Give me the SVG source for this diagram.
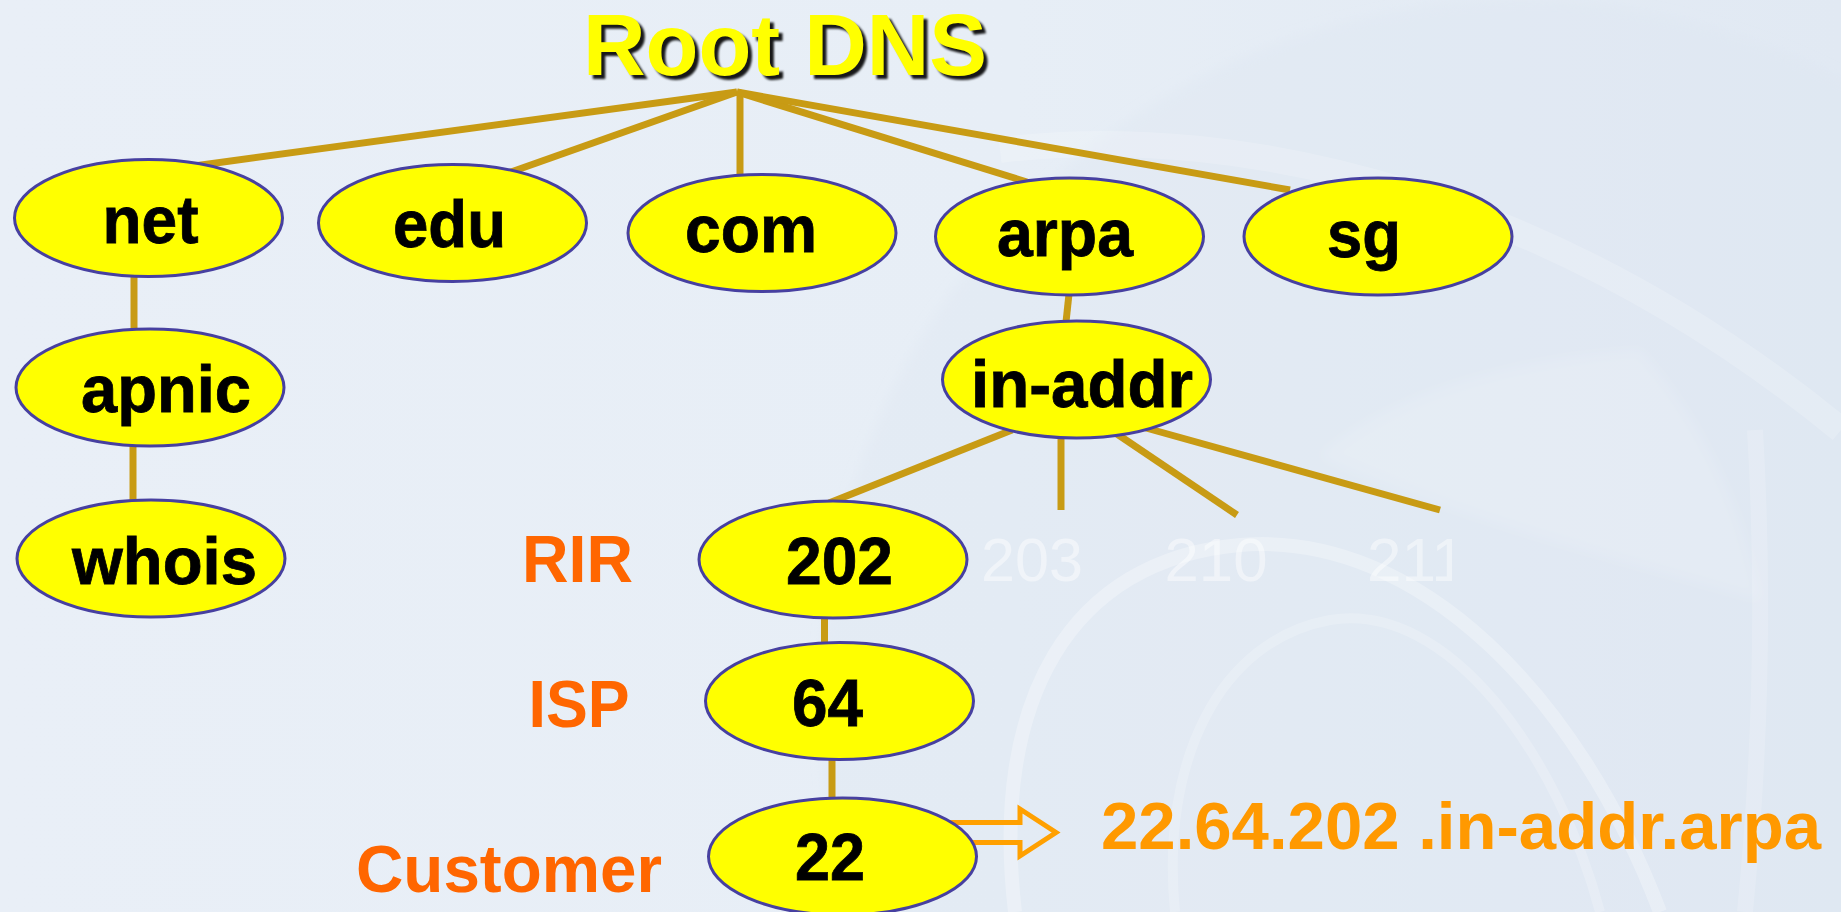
<svg xmlns="http://www.w3.org/2000/svg" width="1841" height="912" viewBox="0 0 1841 912">
  <style>
    .node ellipse { fill: #FFFF00; stroke: #4740A0; stroke-width: 3; }
    .node text { font-family: "Liberation Sans", Arial, sans-serif; font-weight: bold; font-size: 67px; fill: #000; stroke: #000; stroke-width: 0.8; text-anchor: middle; }
    .edge { stroke: #C89B14; stroke-width: 7; fill: none; stroke-linecap: butt; }
    .lvl { font-family: "Liberation Sans", Arial, sans-serif; font-weight: bold; font-size: 67px; fill: #FF6600; }
    .ghost { font-family: "Liberation Sans", Arial, sans-serif; font-size: 62px; fill: #FFFFFF; fill-opacity: 0.45; }
    .title { font-family: "Liberation Sans", Arial, sans-serif; font-weight: bold; font-size: 88px; text-anchor: middle; }
    .swoosh { fill: none; stroke: #FFFFFF; }
  </style>
  <defs>
    <filter id="soft" x="-5%" y="-20%" width="110%" height="140%">
      <feGaussianBlur stdDeviation="0.9"/>
    </filter>
    <filter id="haze" x="-20%" y="-20%" width="140%" height="140%">
      <feGaussianBlur stdDeviation="6"/>
    </filter>
    <linearGradient id="bgShade" x1="0" y1="0" x2="1" y2="0">
      <stop offset="0" stop-color="#E9EFF7"/>
      <stop offset="0.55" stop-color="#E7EEF6"/>
      <stop offset="1" stop-color="#E1E9F3"/>
    </linearGradient>
    <linearGradient id="fadeA" gradientUnits="userSpaceOnUse" x1="1010" y1="431" x2="960" y2="451">
      <stop offset="0" stop-color="#E6D69A"/>
      <stop offset="1" stop-color="#C89B14"/>
    </linearGradient>
    <linearGradient id="fadeB" gradientUnits="userSpaceOnUse" x1="1061" y1="437" x2="1061" y2="470">
      <stop offset="0" stop-color="#E6D69A"/>
      <stop offset="1" stop-color="#C89B14"/>
    </linearGradient>
    <linearGradient id="fadeC" gradientUnits="userSpaceOnUse" x1="1117" y1="434" x2="1150" y2="456">
      <stop offset="0" stop-color="#E6D69A"/>
      <stop offset="1" stop-color="#C89B14"/>
    </linearGradient>
    <linearGradient id="fadeD" gradientUnits="userSpaceOnUse" x1="1146" y1="428" x2="1180" y2="438">
      <stop offset="0" stop-color="#E6D69A"/>
      <stop offset="1" stop-color="#C89B14"/>
    </linearGradient>
    <linearGradient id="fadeE" gradientUnits="userSpaceOnUse" x1="0" y1="616" x2="0" y2="644">
      <stop offset="0" stop-color="#E3D49E"/>
      <stop offset="1" stop-color="#CFAA45"/>
    </linearGradient>
    <clipPath id="cutGhost">
      <rect x="1300" y="500" width="152" height="120"/>
    </clipPath>
  </defs>

  <!-- backdrop with faint watermark curves -->
  <rect width="1841" height="912" fill="url(#bgShade)"/>
  <g id="watermark">
    <circle cx="1520" cy="700" r="700" fill="#DCE6F1" fill-opacity="0.35" filter="url(#haze)"/>
    <path class="swoosh" stroke-width="26" stroke-opacity="0.18" d="M1000 150 C1250 120 1560 200 1841 430"/>
    <path class="swoosh" stroke-width="14" stroke-opacity="0.28" d="M1015 912 C990 700 1070 560 1240 545 C1420 530 1580 700 1660 912"/>
    <path class="swoosh" stroke-width="10" stroke-opacity="0.2" d="M1175 912 C1160 760 1220 640 1330 620 C1450 600 1560 760 1600 912"/>
    <path class="swoosh" stroke-width="16" stroke-opacity="0.16" d="M1755 430 C1765 600 1760 760 1745 912"/>
    <path fill="#FFFFFF" fill-opacity="0.12" filter="url(#haze)" d="M1320 456 C1380 400 1500 360 1640 350 C1700 420 1740 500 1760 600 C1620 560 1460 520 1320 456 Z"/>
  </g>

  <!-- title with drop shadow -->
  <g id="root">
    <text class="title" x="789" y="79" fill="#000" fill-opacity="0.9" filter="url(#soft)" textLength="404" lengthAdjust="spacingAndGlyphs">Root DNS</text>
    <text class="title" x="785" y="75" fill="#FFFF00" textLength="404" lengthAdjust="spacingAndGlyphs">Root DNS</text>
  </g>

  <!-- tree edges -->
  <g id="connectors">
    <path class="edge" d="M737 92 L194 166"/>
    <path class="edge" d="M737 92 L511 172"/>
    <path class="edge" d="M740 92 L740 176"/>
    <path class="edge" d="M737 92 L1027 182"/>
    <path class="edge" d="M737 92 L1290 190"/>
    <path class="edge" d="M134 276 L134 331"/>
    <path class="edge" d="M133 445 L133 501"/>
    <path class="edge" d="M1069 294 L1066 322"/>
    <path class="edge" stroke="url(#fadeA)" d="M1012 430 L829 503"/>
    <path class="edge" stroke="url(#fadeB)" d="M1061 437 L1061 510"/>
    <path class="edge" stroke="url(#fadeC)" d="M1117 434 L1237 515"/>
    <path class="edge" stroke="url(#fadeD)" d="M1146 428 L1440 510"/>
    <path class="edge" stroke="url(#fadeE)" d="M824.5 616 L824.5 644"/>
    <path class="edge" d="M832 752 L832 800"/>
    <!-- hollow pointer to the resulting reverse name -->
    <path fill="none" stroke="#FFA000" stroke-width="5" stroke-linejoin="miter" d="M940 822.5 H1020 V809 L1056 832.5 L1020 856 V842.5 H940"/>
  </g>

  <!-- faded sibling octets -->
  <g id="siblings">
    <text class="ghost" x="1032" y="581" text-anchor="middle" textLength="102" lengthAdjust="spacingAndGlyphs">203</text>
    <text class="ghost" x="1216" y="581" text-anchor="middle" textLength="103" lengthAdjust="spacingAndGlyphs">210</text>
    <text class="ghost" x="1367" y="581" clip-path="url(#cutGhost)">211</text>
  </g>

  <g id="node-net" class="node"><ellipse cx="148.5" cy="218" rx="134" ry="58.5"/><text x="150.5" y="243" textLength="96" lengthAdjust="spacingAndGlyphs">net</text></g>
  <g id="node-edu" class="node"><ellipse cx="452.5" cy="223" rx="134" ry="58.5"/><text x="449.5" y="247" textLength="113" lengthAdjust="spacingAndGlyphs">edu</text></g>
  <g id="node-com" class="node"><ellipse cx="762" cy="233" rx="134" ry="58.5"/><text x="751" y="252" textLength="132" lengthAdjust="spacingAndGlyphs">com</text></g>
  <g id="node-arpa" class="node"><ellipse cx="1069.5" cy="236.5" rx="134" ry="58.5"/><text x="1065" y="256" textLength="136" lengthAdjust="spacingAndGlyphs">arpa</text></g>
  <g id="node-sg" class="node"><ellipse cx="1378" cy="236.5" rx="134" ry="58.5"/><text x="1364" y="257" textLength="74" lengthAdjust="spacingAndGlyphs">sg</text></g>
  <g id="node-apnic" class="node"><ellipse cx="150" cy="387.5" rx="134" ry="58.5"/><text x="166" y="412" textLength="170" lengthAdjust="spacingAndGlyphs">apnic</text></g>
  <g id="node-whois" class="node"><ellipse cx="151" cy="558.5" rx="134" ry="58.5"/><text x="164.5" y="584" textLength="185" lengthAdjust="spacingAndGlyphs">whois</text></g>
  <g id="node-in-addr" class="node"><ellipse cx="1076.5" cy="379.5" rx="134" ry="58.5"/><text x="1082" y="407" textLength="222" lengthAdjust="spacingAndGlyphs">in-addr</text></g>
  <g id="node-202" class="node"><ellipse cx="833" cy="559.5" rx="134" ry="58.5"/><text x="839.5" y="584" textLength="107" lengthAdjust="spacingAndGlyphs">202</text></g>
  <g id="node-64" class="node"><ellipse cx="839.5" cy="701" rx="134" ry="58.5"/><text x="827.5" y="726" textLength="71" lengthAdjust="spacingAndGlyphs">64</text></g>
  <g id="node-22" class="node"><ellipse cx="842.5" cy="856.5" rx="134" ry="58.5"/><text x="830" y="880" textLength="70" lengthAdjust="spacingAndGlyphs">22</text></g>

  <!-- delegation levels -->
  <g id="levels">
    <text class="lvl" x="522" y="582" textLength="111" lengthAdjust="spacingAndGlyphs">RIR</text>
    <text class="lvl" x="528.5" y="727" textLength="101" lengthAdjust="spacingAndGlyphs">ISP</text>
    <text class="lvl" x="356" y="892" textLength="306" lengthAdjust="spacingAndGlyphs">Customer</text>
  </g>

  <g id="result">
    <text x="1101" y="849" font-family="'Liberation Sans', Arial, sans-serif" font-weight="bold" font-size="67" fill="#FF9900" textLength="720" lengthAdjust="spacingAndGlyphs">22.64.202 .in-addr.arpa</text>
  </g>
</svg>
